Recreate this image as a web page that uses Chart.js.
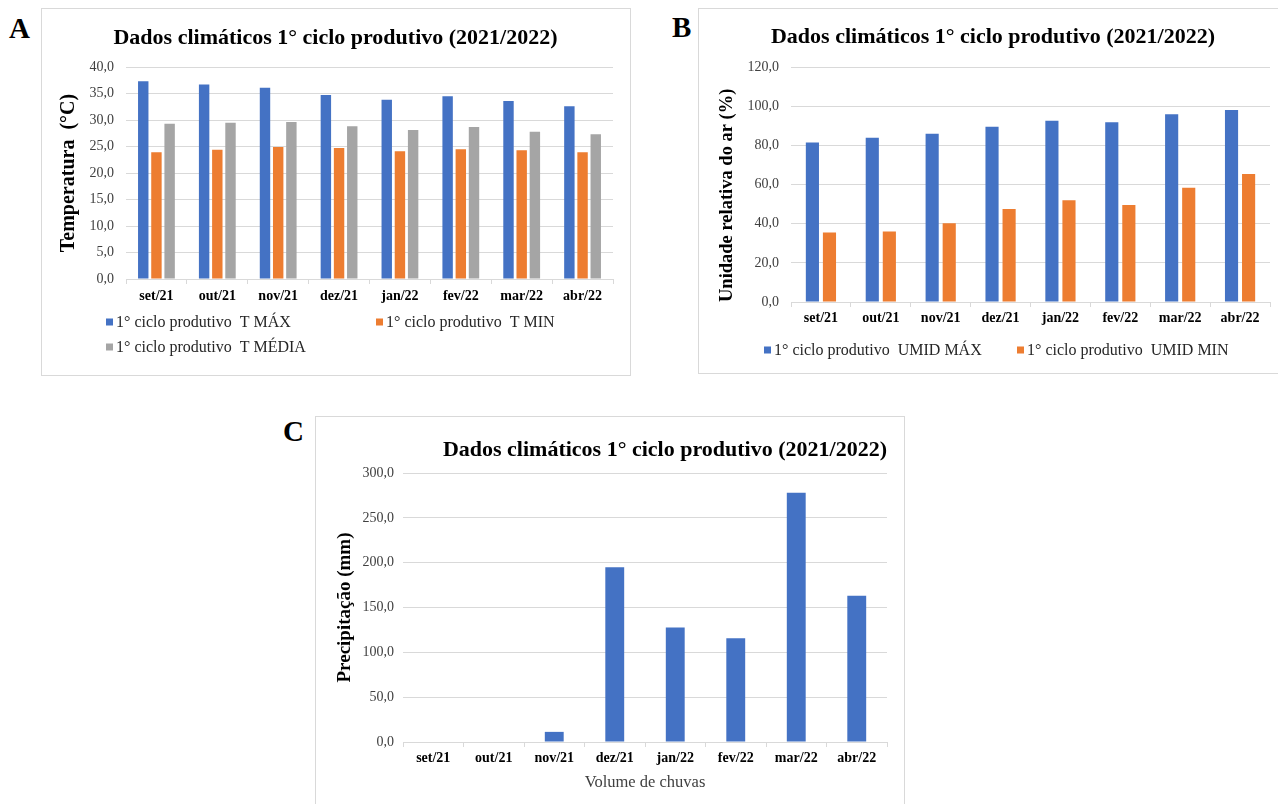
<!DOCTYPE html>
<html><head><meta charset="utf-8">
<script src="https://cdn.jsdelivr.net/npm/chart.js@4.4.0/dist/chart.umd.min.js"></script>
<style>
html,body{margin:0;padding:0;background:#fff;width:1278px;height:804px;overflow:hidden;position:relative;font-family:'Liberation Serif',serif;}
.box{position:absolute;border:1px solid #d9d9d9;box-sizing:border-box;}
canvas{position:absolute;}
.letter{position:absolute;font-weight:bold;font-size:29px;line-height:30px;color:#000;font-family:'Liberation Serif',serif;}
</style></head><body>
<div class="letter" style="left:9px;top:13px;">A</div>
<div class="letter" style="left:672px;top:12px;">B</div>
<div class="letter" style="left:283px;top:416px;">C</div>
<div class="box" style="left:41px;top:8px;width:590px;height:368px;"></div>
<div class="box" style="left:698px;top:8px;width:620px;height:366px;"></div>
<div class="box" style="left:315px;top:416px;width:590px;height:420px;"></div>
<canvas id="cA" width="589" height="367" style="left:41px;top:8px;"></canvas>
<canvas id="cB" width="580" height="365" style="left:698px;top:8px;"></canvas>
<canvas id="cC" width="589" height="388" style="left:315px;top:416px;"></canvas>
<script>
// ---- data ----
const months = ['set/21','out/21','nov/21','dez/21','jan/22','fev/22','mar/22','abr/22'];
const tMax   = [37.3, 36.7, 36.1, 34.7, 33.8, 34.5, 33.6, 32.6];
const tMin   = [23.9, 24.4, 24.9, 24.7, 24.1, 24.5, 24.3, 23.9];
const tMedia = [29.3, 29.5, 29.6, 28.8, 28.1, 28.7, 27.8, 27.3];
const umidMax = [81.5, 83.9, 85.9, 89.5, 92.5, 91.8, 95.9, 98.1];
const umidMin = [35.5, 36.0, 40.2, 47.5, 51.9, 49.5, 58.4, 65.4];
const chuva   = [0, 0, 11.3, 194.8, 127.6, 115.8, 278.0, 163.0];
const titleText = 'Dados climáticos 1° ciclo produtivo (2021/2022)';
const tempTicks = {min:0, max:40, step:5};
const umidTicks = {min:0, max:120, step:20};
const chuvaTicks = {min:0, max:300, step:50};

const BLUE='#4472C4', ORANGE='#ED7D31', GRAY='#A5A5A5';
const FONT="'Liberation Serif', serif";
const fmt = v => Number(v).toFixed(1).replace('.', ',');

const gridLegend = {
  id:'gridLegend',
  afterDraw(chart, args, opts){
    if(!opts || !opts.positions) return;
    const ctx = chart.ctx;
    ctx.save();
    ctx.font = opts.font;
    ctx.textBaseline = 'middle';
    ctx.textAlign = 'left';
    chart.data.datasets.forEach((ds,i)=>{
      const p = opts.positions[i];
      ctx.fillStyle = ds.backgroundColor;
      ctx.fillRect(p[0], p[1]-opts.box/2, opts.box, opts.box);
      ctx.fillStyle = opts.color;
      ctx.fillText(ds.label, p[0]+opts.box+opts.gap, p[1]+1);
    });
    ctx.restore();
  }
};

function makeChart(id, cfg){
  const yTitleFs = cfg.yTitleFs;
  return new Chart(document.getElementById(id), {
    type:'bar',
    data:{labels:months, datasets:cfg.datasets.map(d=>({
      label:d.label, data:d.data, backgroundColor:d.color, borderWidth:0,
      categoryPercentage:cfg.cp, barPercentage:cfg.bp
    }))},
    plugins:[gridLegend],
    options:{
      responsive:false, animation:false,
      layout:{padding:{left:cfg.padLeft, right:cfg.padRight, top:0, bottom:0}},
      plugins:{
        legend:{display:false},
        tooltip:{enabled:false},
        title:{display:true, text:titleText, align:cfg.titleAlign, color:'#000',
          font:{family:FONT, size:22, weight:'bold'},
          padding:{top:cfg.titlePt, bottom:cfg.titlePb}},
        gridLegend: cfg.legend || {}
      },
      scales:{
        x:{
          grid:{offset:true, drawOnChartArea:false, drawTicks:true, tickLength:5, color:'#d9d9d9'},
          border:{display:true, color:'#d9d9d9'},
          ticks:{color:'#000', padding:cfg.xPad, font:{family:FONT, size:14, weight:'bold'}, maxRotation:0, autoSkip:false},
          title: cfg.xTitle ? {display:true, text:cfg.xTitle, color:'#404040', font:{family:FONT, size:16.5}, padding:{top:0,bottom:11}} : {display:false},
          afterFit(s){ s.height = cfg.xHeight; }
        },
        y:{
          min:cfg.ticks.min, max:cfg.ticks.max,
          grid:{color:'#d9d9d9', drawTicks:false},
          border:{display:false},
          ticks:{stepSize:cfg.ticks.step, color:'#404040', padding:cfg.yPad, font:{family:FONT, size:14}, callback:v=>fmt(v)},
          title:{display:true, text:cfg.yTitle, align:cfg.yTitleAlign, color:'#000', font:{family:FONT, size:yTitleFs, weight:'bold'},
            padding:{top:cfg.yTitlePt, bottom:0}},
          afterFit(s){ s.width = cfg.yWidth; }
        }
      }
    }
  });
}

makeChart('cA', {
  datasets:[
    {label:'1° ciclo produtivo  T MÁX', data:tMax, color:BLUE},
    {label:'1° ciclo produtivo  T MIN', data:tMin, color:ORANGE},
    {label:'1° ciclo produtivo  T MÉDIA', data:tMedia, color:GRAY}
  ],
  cp:0.65, bp:0.79, padLeft:17, padRight:17, titleAlign:'center', titlePt:17, titlePb:15.6,
  xPad:4, xHeight:96, yWidth:68, yPad:12, ticks:tempTicks,
  yTitle:'Temperatura  (°C)', yTitleFs:20, yTitlePt:-1, yTitleAlign:'center',
  legend:{font:"16px "+FONT, color:'#262626', box:7, gap:3, positions:[[65,314],[335,314],[65,339]]}
});

makeChart('cB', {
  datasets:[
    {label:'1° ciclo produtivo  UMID MÁX', data:umidMax, color:BLUE},
    {label:'1° ciclo produtivo  UMID MIN', data:umidMin, color:ORANGE}
  ],
  cp:0.57, bp:0.77, padLeft:18, padRight:8, titleAlign:'center', titlePt:16, titlePb:16.6,
  xPad:3, xHeight:71, yWidth:75, yPad:12, ticks:umidTicks,
  yTitle:'Unidade relativa do ar (%)', yTitleFs:18.5, yTitlePt:0, yTitleAlign:'start',
  legend:{font:"16px "+FONT, color:'#262626', box:7, gap:3, positions:[[66,342],[319,342]]}
});

makeChart('cC', {
  datasets:[
    {label:'Volume de chuvas', data:chuva, color:BLUE}
  ],
  cp:0.4, bp:0.78, padLeft:0, padRight:17, titleAlign:'end', titlePt:21, titlePb:9.6,
  xPad:3, xHeight:62, yWidth:88, yPad:9, ticks:chuvaTicks,
  yTitle:'Precipitação (mm)', yTitleFs:19, yTitlePt:19, yTitleAlign:'center',
  xTitle:'Volume de chuvas'
});
</script>
</body></html>
